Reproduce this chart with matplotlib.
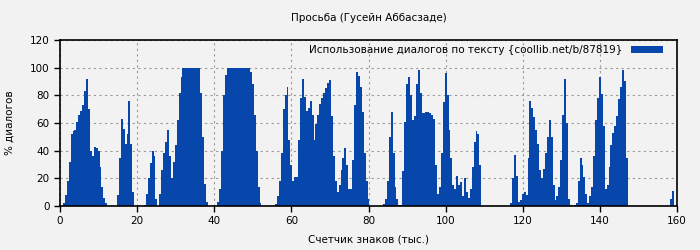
import numpy as np
import matplotlib
matplotlib.use("Agg")
import matplotlib.pyplot as plt

# dialogue share per 0.5 thousand characters, starting at 0
step = 0.5
usage = [
    0, 0, 2, 8, 18, 32, 52, 54, 55, 61, 66, 69, 73, 83, 92, 70, 40, 36, 43, 42,        # 0-10
    40, 28, 14, 6, 2, 0, 0, 0, 0, 0, 8, 35, 63, 56, 45, 52, 76, 45, 10, 0,             # 10-20
    0, 0, 0, 0, 1, 9, 20, 31, 40, 36, 5, 0, 9, 26, 38, 46, 55, 36, 20, 32,             # 20-30
    44, 62, 82, 93, 100, 100, 100, 100, 100, 100, 100, 100, 100, 82, 50, 16, 3, 0, 0, 0,  # 30-40
    0, 0, 3, 12, 40, 80, 95, 100, 100, 100, 100, 100, 100, 100, 100, 100, 100, 100, 100, 97,  # 40-50
    88, 66, 40, 14, 2, 0, 0, 0, 0, 0, 0, 0, 1.5, 7, 18, 38, 70, 80, 86, 48,            # 50-60
    30, 18, 21, 21, 48, 78, 92, 79, 69, 71, 76, 66, 48, 59, 66, 74, 78, 82, 85, 89,    # 60-70
    91, 65, 36, 18, 10, 15, 26, 35, 42, 30, 12, 12, 33, 73, 97, 94, 86, 68, 38, 18,    # 70-80
    5, 0, 0, 0, 0, 0, 0, 0, 1.5, 5, 18, 50, 68, 38, 14, 5, 1, 1, 25, 61,               # 80-90
    88, 93, 80, 62, 65, 88, 98, 82, 67, 67, 68, 68, 67, 66, 63, 30, 9, 14, 38, 75,     # 90-100
    96, 80, 55, 35, 15, 12, 22, 15, 17, 7, 20, 10, 6, 12, 28, 46, 54, 52, 30, 0,       # 100-110
    0, 0, 0, 0, 0, 0, 0, 0, 0, 0, 0, 0, 0, 0, 2, 20, 37, 22, 3, 4,                     # 110-120
    9, 10, 8, 35, 76, 71, 64, 55, 45, 26, 20, 27, 38, 50, 62, 50, 15, 4, 7, 14,        # 120-130
    33, 66, 92, 60, 5, 1, 0, 0.5, 2, 18, 35, 30, 21, 9, 2, 7, 14, 36, 62, 78,          # 130-140
    93, 81, 58, 12, 15, 28, 44, 53, 58, 65, 77, 86, 98, 90, 35, 0, 0, 0, 0, 0,         # 140-150
    0, 0, 0, 0, 0, 0, 0, 0, 0, 0, 0, 0, 0, 0, 0, 0, 0, 5, 11, 0,                       # 150-160
]
x_ticks = [0, 20, 40, 60, 80, 100, 120, 140, 160]
y_ticks = [0, 20, 40, 60, 80, 100, 120]

title = "Просьба (Гусейн Аббасзаде)"
legend_label = "Использование диалогов по тексту {coollib.net/b/87819}"

bg = "#f2f2f2"
blue = "#0747ab"

fig = plt.figure(figsize=(7, 2.5), dpi=100, facecolor=bg)
ax = fig.add_axes([60 / 700, 44 / 250, 617 / 700, 166 / 250])
ax.set_facecolor(bg)

x = np.arange(len(usage)) * step
ax.bar(x, usage, width=step, color=blue, linewidth=0, antialiased=False,
       label=legend_label)

ax.set_xlim(0, 160)
ax.set_ylim(0, 120)
ax.set_xticks(x_ticks)
ax.set_yticks(y_ticks)
ax.tick_params(labelsize=7.5, length=4, width=1, direction="out")
ax.set_axisbelow(True)
ax.grid(color="#999999", linestyle=(0, (2, 3)), linewidth=0.8)
for sp in ax.spines.values():
    sp.set_linewidth(1.2)
    sp.set_zorder(5)

ax.legend(loc="upper right", bbox_to_anchor=(1 - 7 / 617, 1 + 2 / 166),
          frameon=False, markerfirst=False, fontsize=7.5,
          handlelength=3.0, handleheight=0.6, borderaxespad=0.3, handletextpad=0.9)

fig.text(368.5 / 700, 1 - 18 / 250, title, ha="center", va="center", fontsize=7.5)
fig.text(368.5 / 700, 1 - 240 / 250, "Счетчик знаков (тыс.)", ha="center", va="center", fontsize=7.5)
fig.text(10 / 700, 1 - 123 / 250, "% диалогов", ha="center", va="center", rotation=90, fontsize=7.5)

plt.savefig("out.png", dpi=100, facecolor=bg)
